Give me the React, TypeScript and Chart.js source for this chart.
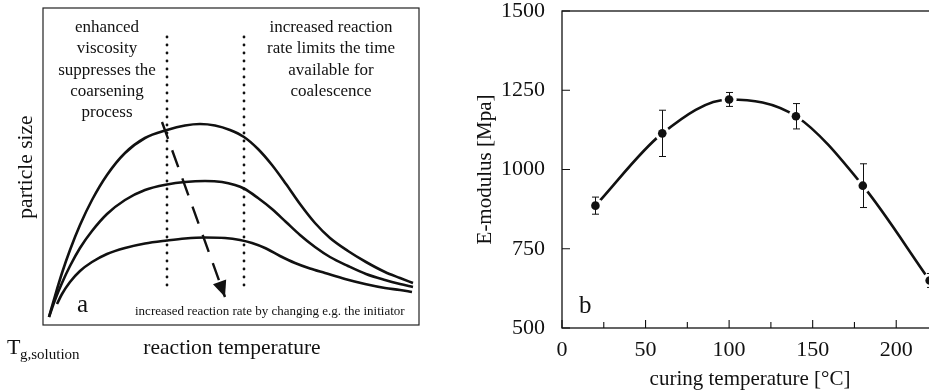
import React, { useEffect, useRef } from "react";
import { Chart, registerables } from "chart.js";

Chart.register(...registerables);

const SERIF = '"Liberation Serif", "Times New Roman", Times, serif';
const INK = "#111111";

// ---------- Panel a: schematic, particle size vs reaction temperature (arbitrary units)
const upperCurveX = [6, 12, 19, 27, 37, 49, 64, 82, 102, 124, 142, 157, 172, 187, 201, 215, 229, 243, 257, 272, 287, 305, 323, 342, 357, 370];
const upperCurveY = [8, 29, 52, 75, 100, 125, 150, 172, 187, 195, 199.5, 201, 199.5, 195, 188, 176, 160, 141, 121, 102, 87, 74, 63, 53, 47, 42];
const middleCurveX = [6, 12, 19, 27, 37, 49, 64, 82, 102, 124, 142, 162, 179, 192, 201, 215, 229, 243, 257, 272, 287, 305, 323, 342, 357, 370];
const middleCurveY = [8, 25, 42, 59, 77, 94, 111, 125, 135, 140.5, 143, 144, 143, 140, 136.5, 127, 116, 103, 90, 78, 68, 59, 51, 45, 41, 38];
const lowerCurveX = [14, 19, 27, 37, 49, 64, 82, 102, 124, 142, 162, 182, 197, 209, 222, 237, 252, 267, 282, 302, 322, 342, 357, 369];
const lowerCurveY = [21, 31, 43, 54, 63, 71, 77, 81.5, 84.5, 86.5, 87.5, 87, 85, 82, 77, 69, 62, 56.5, 52, 46, 41, 37, 35, 33];

const boundaryX = [124, 201];
const boundaryY = [40, 295];
const arrowX = [119, 182];
const arrowY = [203, 28];

const leftNote = ["enhanced", "viscosity", "suppresses the", "coarsening", "process"];
const rightNote = ["increased reaction", "rate limits the time", "available for", "coalescence"];
const bottomNote = "increased reaction rate by changing e.g. the initiator";
const panelAYTitle = "particle size";
const panelAXTitle = "reaction temperature";
const panelAOriginMain = "T";
const panelAOriginSub = "g,solution";

// ---------- Panel b: E-modulus vs curing temperature
const curingTemp = [20, 60, 100, 140, 180, 220];
const eModulus = [886, 1114, 1221, 1168, 949, 650];
const eModulusErr = [27, 73, 22, 40, 69, 22];
const xTickValues = [0, 50, 100, 150, 200];
const xMinorTickValues = [25, 75, 125, 175];
const yTickValues = [500, 750, 1000, 1250, 1500];

const pts = (xs: number[], ys: number[]) => xs.map((x, i) => ({ x, y: ys[i] }));

const curveDs = (xs: number[], ys: number[]) => ({
  data: pts(xs, ys),
  showLine: true,
  borderColor: INK,
  borderWidth: 2.6,
  pointRadius: 0,
  cubicInterpolationMode: "monotone" as const,
  fill: false,
});

const panelAPlugin = {
  id: "panelADecor",
  afterDatasetsDraw(chart: any) {
    const { ctx, chartArea: ca, scales } = chart;
    const x = scales.x, y = scales.y;
    ctx.save();
    // frame
    ctx.strokeStyle = "#222";
    ctx.lineWidth = 1.2;
    ctx.strokeRect(ca.left, ca.top, ca.right - ca.left, ca.bottom - ca.top);
    // arrow head
    const x0 = x.getPixelForValue(arrowX[0]), y0 = y.getPixelForValue(arrowY[0]);
    const x1 = x.getPixelForValue(arrowX[1]), y1 = y.getPixelForValue(arrowY[1]);
    const ang = Math.atan2(y1 - y0, x1 - x0);
    const c = Math.cos(ang), s = Math.sin(ang);
    const len = 16, half = 7;
    ctx.fillStyle = INK;
    ctx.beginPath();
    ctx.moveTo(x1, y1);
    ctx.lineTo(x1 - len * c + half * s, y1 - len * s - half * c);
    ctx.lineTo(x1 - len * c - half * s, y1 - len * s + half * c);
    ctx.closePath();
    ctx.fill();
    // notes
    ctx.fillStyle = INK;
    ctx.textBaseline = "alphabetic";
    ctx.textAlign = "center";
    ctx.font = `17px ${SERIF}`;
    leftNote.forEach((t, i) => ctx.fillText(t, ca.left + 64, ca.top + 24 + i * 21.3));
    rightNote.forEach((t, i) => ctx.fillText(t, ca.left + 288, ca.top + 24 + i * 21.3));
    ctx.textAlign = "left";
    ctx.font = `13px ${SERIF}`;
    ctx.fillText(bottomNote, ca.left + 92, ca.bottom - 10);
    ctx.font = `25px ${SERIF}`;
    ctx.fillText("a", ca.left + 34, ca.bottom - 13);
    // axis titles
    ctx.font = `21.5px ${SERIF}`;
    ctx.textAlign = "center";
    ctx.fillText(panelAXTitle, 232, 354);
    ctx.textAlign = "left";
    ctx.font = `22px ${SERIF}`;
    ctx.fillText(panelAOriginMain, 7, 354);
    ctx.font = `15px ${SERIF}`;
    ctx.fillText(panelAOriginSub, 20, 359);
    ctx.translate(26, 167);
    ctx.rotate(-Math.PI / 2);
    ctx.textAlign = "center";
    ctx.textBaseline = "middle";
    ctx.font = `21.5px ${SERIF}`;
    ctx.fillText(panelAYTitle, 0, 0);
    ctx.restore();
  },
};

const panelBPlugin = {
  id: "panelBDecor",
  afterDatasetsDraw(chart: any) {
    const { ctx, chartArea: ca, scales } = chart;
    const x = scales.x, y = scales.y;
    ctx.save();
    ctx.strokeStyle = INK;
    ctx.lineWidth = 1;
    curingTemp.forEach((t, i) => {
      const px = Math.round(x.getPixelForValue(t)) + 0.5;
      const top = y.getPixelForValue(eModulus[i] + eModulusErr[i]);
      const bot = y.getPixelForValue(eModulus[i] - eModulusErr[i]);
      ctx.beginPath();
      ctx.moveTo(px, top);
      ctx.lineTo(px, bot);
      ctx.moveTo(px - 3.5, top);
      ctx.lineTo(px + 3.5, top);
      ctx.moveTo(px - 3.5, bot);
      ctx.lineTo(px + 3.5, bot);
      ctx.stroke();
    });
    // frame
    ctx.lineWidth = 1.3;
    ctx.strokeRect(ca.left, ca.top, ca.right - ca.left, ca.bottom - ca.top);
    // inward ticks
    ctx.lineWidth = 1.1;
    ctx.beginPath();
    yTickValues.forEach((v) => {
      const py = y.getPixelForValue(v);
      ctx.moveTo(ca.left, py);
      ctx.lineTo(ca.left + 8, py);
    });
    xTickValues.forEach((v) => {
      const px = x.getPixelForValue(v);
      ctx.moveTo(px, ca.bottom);
      ctx.lineTo(px, ca.bottom - 8);
    });
    xMinorTickValues.forEach((v) => {
      const px = x.getPixelForValue(v);
      ctx.moveTo(px, ca.bottom);
      ctx.lineTo(px, ca.bottom - 6);
    });
    ctx.stroke();
    ctx.fillStyle = INK;
    ctx.font = `25px ${SERIF}`;
    ctx.textAlign = "left";
    ctx.textBaseline = "alphabetic";
    ctx.fillText("b", ca.left + 17, ca.bottom - 15);
    ctx.restore();
  },
};

export default function App() {
  const aRef = useRef<HTMLCanvasElement>(null);
  const bRef = useRef<HTMLCanvasElement>(null);

  useEffect(() => {
    const chartA = new Chart(aRef.current as HTMLCanvasElement, {
      type: "scatter",
      data: {
        datasets: [
          curveDs(upperCurveX, upperCurveY),
          curveDs(middleCurveX, middleCurveY),
          curveDs(lowerCurveX, lowerCurveY),
          {
            data: boundaryY.map((v) => ({ x: boundaryX[0], y: v })),
            showLine: true,
            borderColor: INK,
            borderWidth: 2.8,
            borderDash: [0, 8],
            borderCapStyle: "round",
            pointRadius: 0,
          },
          {
            data: boundaryY.map((v) => ({ x: boundaryX[1], y: v })),
            showLine: true,
            borderColor: INK,
            borderWidth: 2.8,
            borderDash: [0, 8],
            borderCapStyle: "round",
            pointRadius: 0,
          },
          {
            data: pts(arrowX, arrowY),
            showLine: true,
            borderColor: INK,
            borderWidth: 2.4,
            borderDash: [18, 12],
            pointRadius: 0,
          },
        ] as any,
      },
      options: {
        responsive: false,
        animation: false,
        devicePixelRatio: 1,
        events: [],
        layout: { padding: { left: 43, top: 8, right: 21, bottom: 67 } },
        plugins: { legend: { display: false }, tooltip: { enabled: false } },
        scales: {
          x: { type: "linear", min: 0, max: 376, display: false },
          y: { type: "linear", min: 0, max: 317, display: false },
        },
      },
      plugins: [panelAPlugin],
    });

    const measured = pts(curingTemp, eModulus);
    const chartB = new Chart(bRef.current as HTMLCanvasElement, {
      type: "scatter",
      data: {
        datasets: [
          {
            data: measured,
            showLine: true,
            borderColor: INK,
            borderWidth: 2.6,
            pointRadius: 0,
            cubicInterpolationMode: "monotone",
            order: 3,
          },
          {
            data: measured,
            showLine: false,
            pointRadius: 7.5,
            pointBackgroundColor: "#ffffff",
            pointBorderWidth: 0,
            order: 2,
          },
          {
            data: measured,
            showLine: false,
            pointRadius: 4.3,
            pointBackgroundColor: INK,
            pointBorderColor: INK,
            pointBorderWidth: 0,
            order: 1,
          },
        ] as any,
      },
      options: {
        responsive: false,
        animation: false,
        devicePixelRatio: 1,
        events: [],
        layout: { padding: { left: 0, top: 11, right: 88, bottom: 0 } },
        plugins: { legend: { display: false }, tooltip: { enabled: false } },
        scales: {
          x: {
            type: "linear",
            min: 0,
            max: 225,
            afterBuildTicks: (s: any) => {
              s.ticks = xTickValues.map((v) => ({ value: v }));
            },
            ticks: {
              font: { family: SERIF, size: 22 },
              color: INK,
              padding: 9,
              maxRotation: 0,
              autoSkip: false,
              callback: (v: any) => String(v),
            },
            grid: { display: false, drawTicks: false },
            border: { display: false },
            title: {
              display: true,
              text: "curing temperature [°C]",
              font: { family: SERIF, size: 21 },
              color: INK,
              padding: { top: 0, bottom: 0 },
            },
            afterFit: (s: any) => {
              s.height = 64;
              s.paddingLeft = 0;
              s.paddingRight = 0;
            },
          },
          y: {
            type: "linear",
            min: 500,
            max: 1500,
            afterBuildTicks: (s: any) => {
              s.ticks = yTickValues.map((v) => ({ value: v }));
            },
            ticks: {
              font: { family: SERIF, size: 22 },
              color: INK,
              padding: 17,
              callback: (v: any) => String(v),
            },
            grid: { display: false, drawTicks: false },
            border: { display: false },
            title: {
              display: true,
              text: "E-modulus [Mpa]",
              font: { family: SERIF, size: 21 },
              color: INK,
              padding: { top: 7, bottom: 0 },
            },
            afterFit: (s: any) => {
              s.width = 96;
              s.paddingTop = 0;
              s.paddingBottom = 0;
            },
          },
        },
      },
      plugins: [panelBPlugin],
    });

    return () => {
      chartA.destroy();
      chartB.destroy();
    };
  }, []);

  return (
    <div
      style={{
        position: "absolute",
        left: 0,
        top: 0,
        width: 929,
        height: 392,
        overflow: "hidden",
        background: "#ffffff",
      }}
    >
      <canvas
        ref={aRef}
        width={440}
        height={392}
        style={{ position: "absolute", left: 0, top: 0, width: 440, height: 392 }}
      />
      <canvas
        ref={bRef}
        width={560}
        height={392}
        style={{ position: "absolute", left: 466, top: 0, width: 560, height: 392 }}
      />
    </div>
  );
}
